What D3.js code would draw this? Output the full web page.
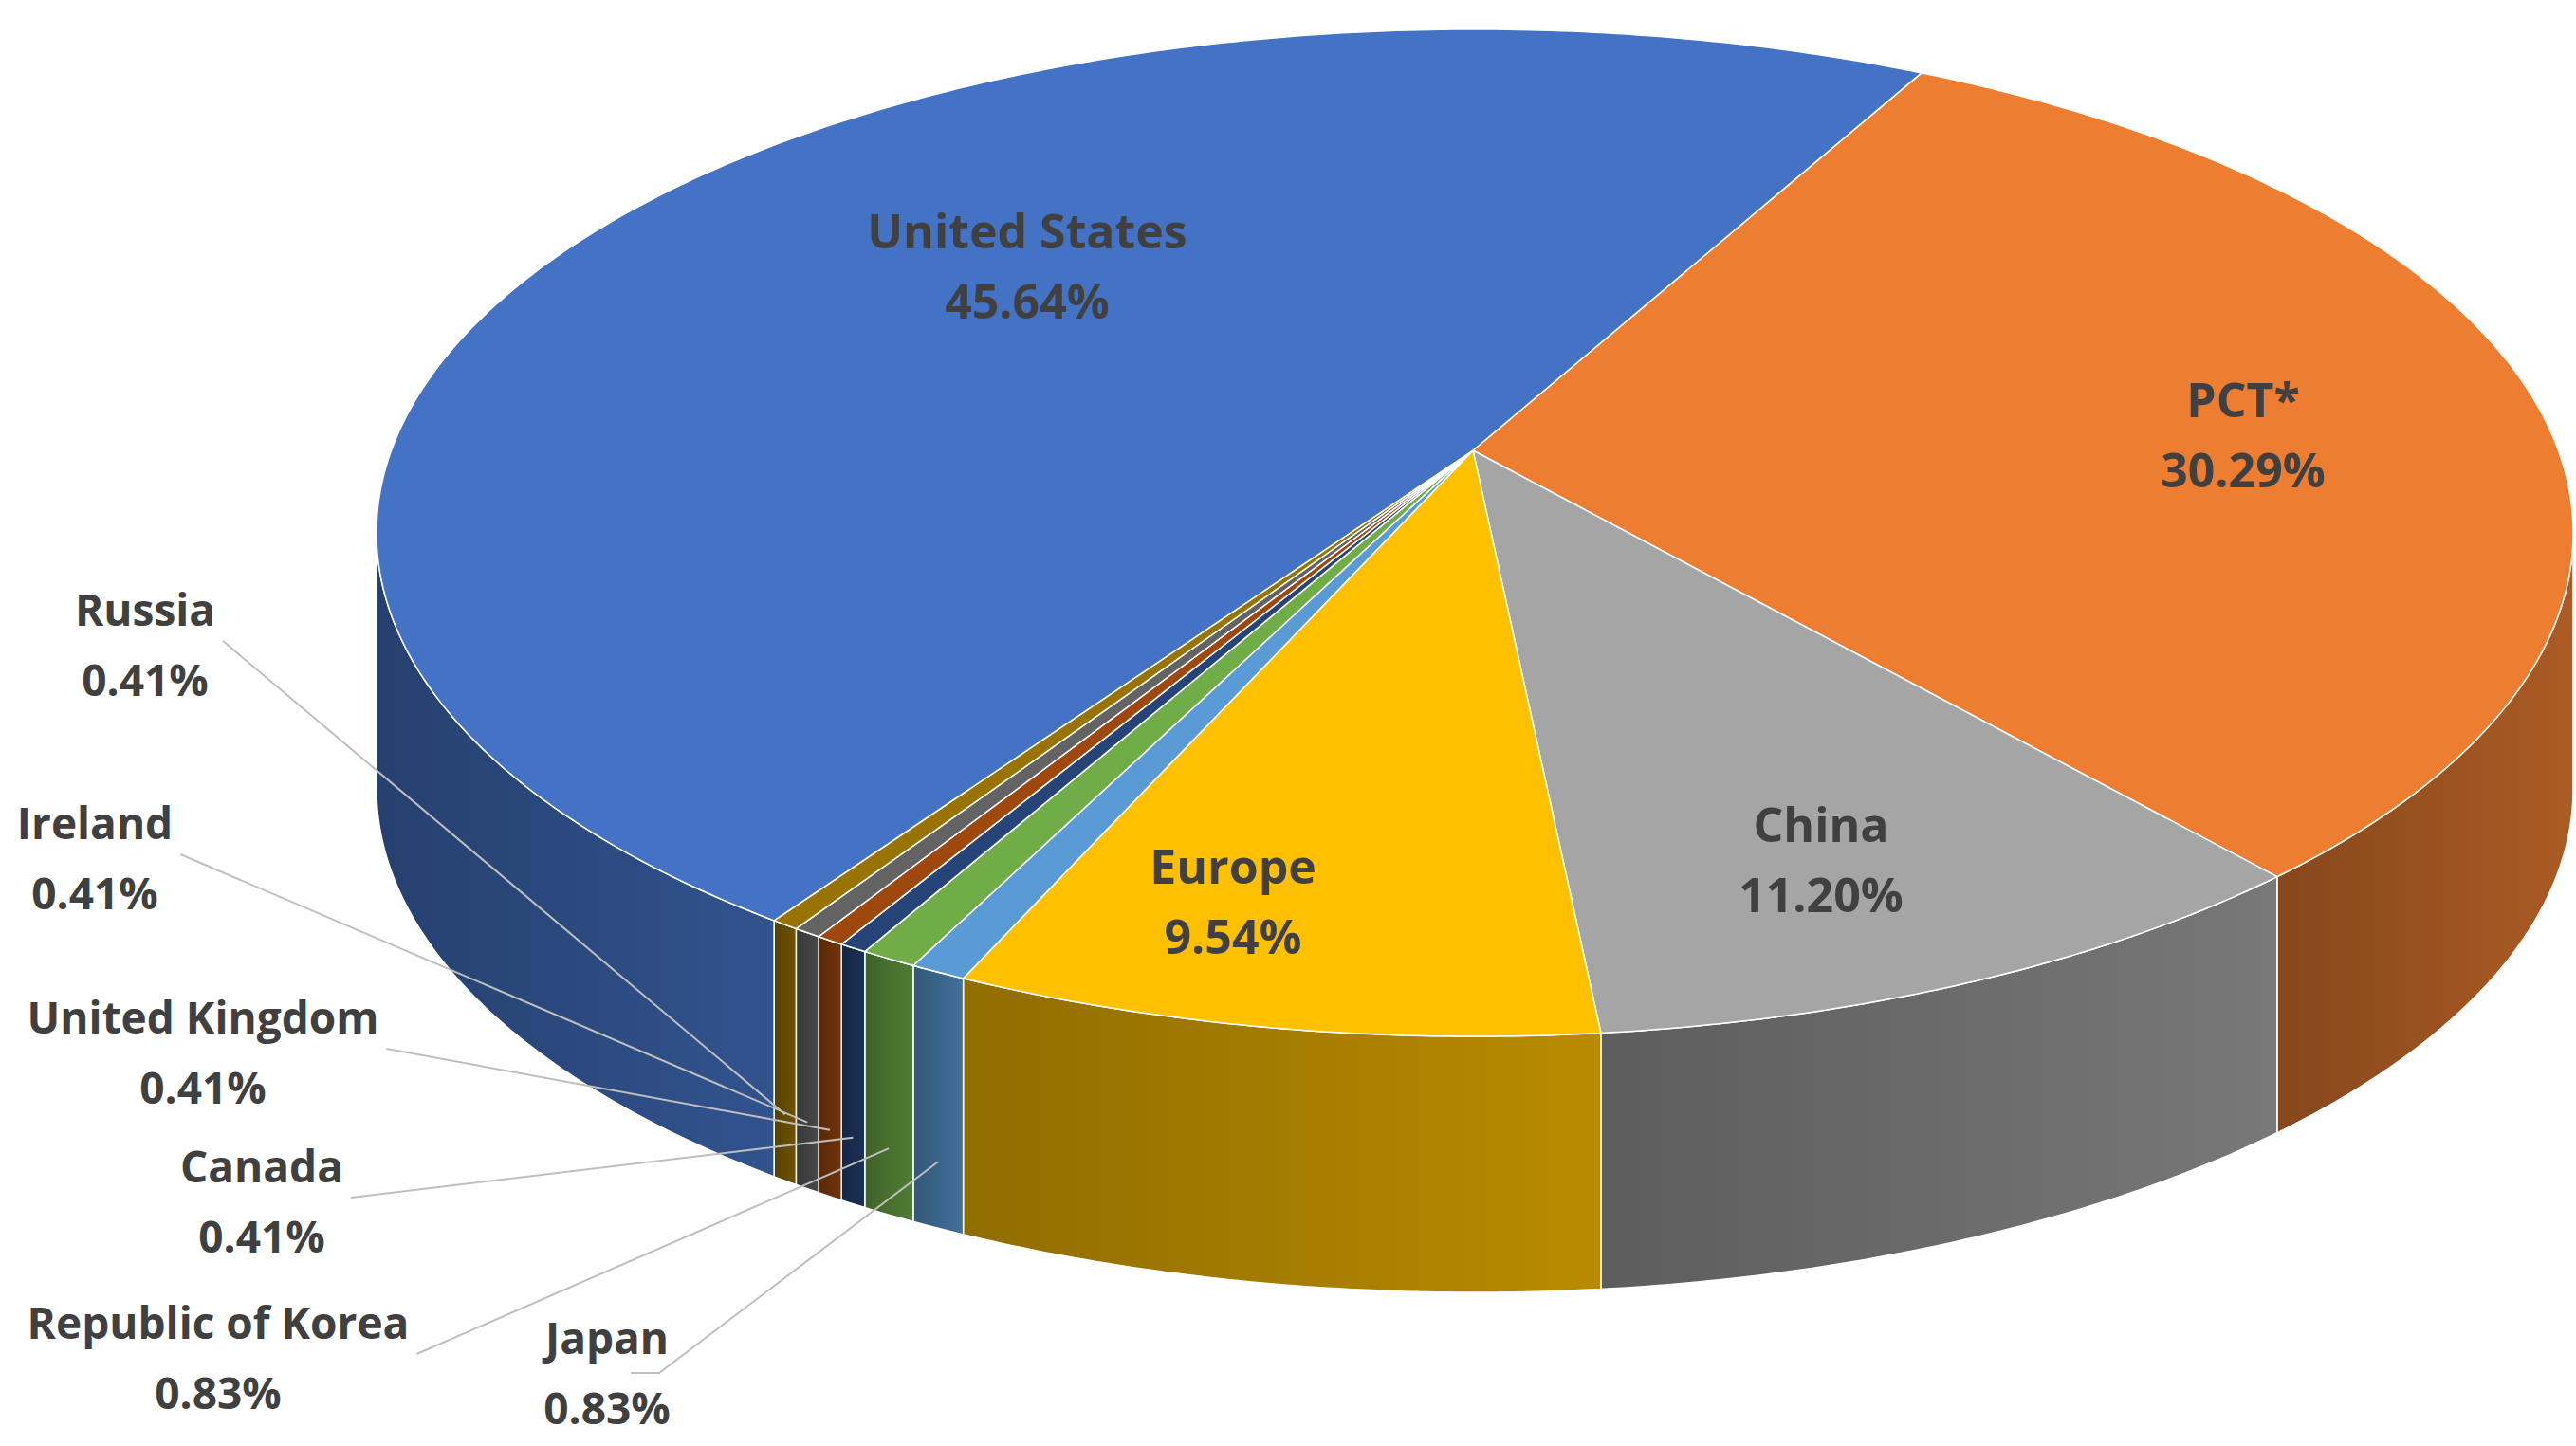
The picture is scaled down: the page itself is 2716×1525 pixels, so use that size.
<!DOCTYPE html>
<html lang="en">
<head>
<meta charset="UTF-8">
<title>3D Pie</title>
<script src="https://d3js.org/d3.v7.min.js"></script>
<style>
  body { margin: 0; background: #fff; }
  text { font-family: "Open Sans", "Liberation Sans", sans-serif; font-weight: bold; fill: #404040; }
</style>
</head>
<body>
<div id="chart"></div>
<script>
// data
const categories = ["PCT*", "China", "Europe", "Japan", "Republic of Korea", "Canada", "United Kingdom", "Ireland", "Russia", "United States"];
const shares = [30.29, 11.20, 9.54, 0.83, 0.83, 0.41, 0.41, 0.41, 0.41, 45.64];
const colors = ["#ED7D31", "#A5A5A5", "#FFC000", "#5B9BD5", "#70AD47", "#264478", "#9E480E", "#636363", "#997300", "#4472C4"];

const width = 2716, height = 1525;
const cx = 1555, cy = 562, rx = 1158, ry = 531, depth = 270;
const apex = [1553, 475];
const startDeg = -66;

// label layout for the small slices (outside, on the left)
const outsideLabels = {
  "Russia": [153, 660], "Ireland": [100, 885], "United Kingdom": [214, 1090],
  "Canada": [276, 1247], "Republic of Korea": [230, 1412], "Japan": [640, 1428]
};
const insideLabels = {
  "United States": [1083, 262], "PCT*": [2365, 440], "China": [1920, 888], "Europe": [1300, 932]
};

const svg = d3.select("#chart").append("svg").attr("width", width).attr("height", height);
const defs = svg.append("defs");

const rad = d => d * Math.PI / 180;
const pt = (t, dy = 0) => [cx + rx * Math.cos(t), cy + ry * Math.sin(t) + dy];

const angle = d3.scaleLinear().domain([0, d3.sum(shares)]).range([rad(startDeg), rad(startDeg + 360)]);
let acc = 0;
const slices = shares.map((v, i) => {
  const s = { name: categories[i], value: v, color: colors[i], a0: angle(acc), a1: angle(acc + v) };
  acc += v;
  return s;
});

const arcPts = (a0, a1, dy) => {
  const n = Math.max(2, Math.ceil((a1 - a0) / 0.01));
  return d3.range(n + 1).map(k => pt(a0 + (a1 - a0) * k / n, dy));
};

// side walls (visible front half)
const sides = svg.append("g");
slices.forEach((s, i) => {
  [-2 * Math.PI, 0, 2 * Math.PI].forEach(off => {
    const a0 = Math.max(s.a0 + off, 0), a1 = Math.min(s.a1 + off, Math.PI);
    if (a1 <= a0) return;
    const gid = "g" + i + "_" + (off + 7).toFixed(0);
    const c = d3.color(s.color);
    const g = defs.append("linearGradient").attr("id", gid)
      .attr("gradientUnits", "userSpaceOnUse")
      .attr("x1", pt(a0)[0]).attr("x2", pt(a1)[0]).attr("y1", 0).attr("y2", 0);
    g.append("stop").attr("offset", 0).attr("stop-color", c.darker(0.9));
    g.append("stop").attr("offset", 1).attr("stop-color", c.darker(1.6));
    const pts = arcPts(a0, a1, 0).concat(arcPts(a0, a1, depth).reverse());
    sides.append("path")
      .attr("d", d3.line()(pts) + "Z")
      .attr("fill", `url(#${gid})`)
      .attr("stroke", "#fff").attr("stroke-width", 1.5);
  });
});

// top faces
const tops = svg.append("g");
slices.forEach(s => {
  const pts = [apex].concat(arcPts(s.a0, s.a1, 0));
  tops.append("path")
    .attr("d", d3.line()(pts) + "Z")
    .attr("fill", s.color)
    .attr("stroke", "#fff").attr("stroke-width", 1.5);
});

// labels
const lab = svg.append("g");
slices.forEach(s => {
  const txt = `${s.value.toFixed(2)}%`;
  if (insideLabels[s.name]) {
    const [x, y] = insideLabels[s.name];
    const t = lab.append("text").attr("text-anchor", "middle").attr("font-size", 50);
    t.append("tspan").attr("x", x).attr("y", y).text(s.name);
    t.append("tspan").attr("x", x).attr("y", y + 74).text(txt);
  } else {
    const [x, y] = outsideLabels[s.name];
    const t = lab.append("text").attr("text-anchor", "middle").attr("font-size", 46);
    t.append("tspan").attr("x", x).attr("y", y).text(s.name);
    t.append("tspan").attr("x", x).attr("y", y + 74).text(txt);
    const w = t.node().getBBox().width;
    const target = pt((s.a0 + s.a1) / 2 + 2 * Math.PI, depth - 70);
    const sx = s.name === "Japan" ? x + 55 : x + w / 2 + 8;
    const sy = s.name === "Japan" ? y + 20 : y + 16;
    lab.insert("polyline", "text")
      .attr("points", [[sx - (s.name === "Japan" ? 30 : 0), sy], [sx, sy], target].map(p => p.join(",")).join(" "))
      .attr("fill", "none").attr("stroke", "#bfbfbf").attr("stroke-width", 2);
  }
});
</script>
</body>
</html>
